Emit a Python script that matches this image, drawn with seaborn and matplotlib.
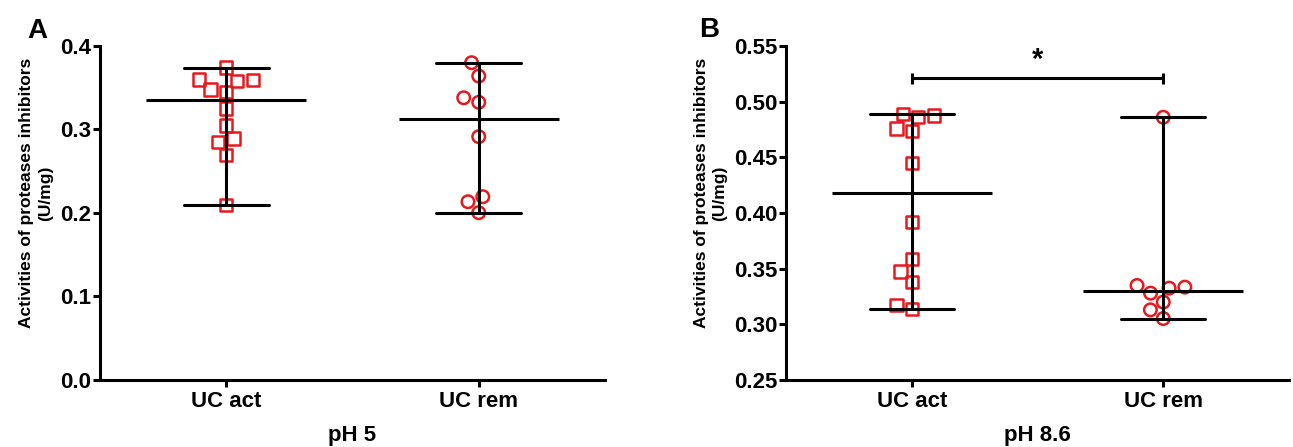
"""
Two-panel scatter dot plot: protease inhibitor activity at pH 5 and pH 8.6,
median with range, UC active vs UC remission.
"""

import numpy as np
import pandas as pd
import matplotlib
matplotlib.use("Agg")
import matplotlib.pyplot as plt
from matplotlib.ticker import FormatStrFormatter
import seaborn as sns

# Giá trị
GROUPS = ["UC act", "UC rem"]

ph5_act = [0.374, 0.359, 0.345, 0.348, 0.358, 0.360, 0.325, 0.305,
           0.285, 0.289, 0.2695, 0.2096]
ph5_rem = [0.380, 0.364, 0.3326, 0.338, 0.2914, 0.2195, 0.2135, 0.2004]

ph86_act = [0.4874, 0.4761, 0.4737, 0.486, 0.4887, 0.4447, 0.3917, 0.3585,
            0.3474, 0.3379, 0.3137, 0.3175]
ph86_rem = [0.486, 0.3349, 0.3325, 0.328, 0.3334, 0.320, 0.313, 0.3052]

PANEL_LETTERS = ["A", "B"]
PANEL_XLABELS = ["pH 5", "pH 8.6"]
YLABEL = "Activities of proteases inhibitors\n(U/mg)"
A_YTICKS = [0.0, 0.1, 0.2, 0.3, 0.4]
B_YTICKS = [0.25, 0.30, 0.35, 0.40, 0.45, 0.50, 0.55]
SIG_Y = 0.521
SIG_TEXT = "*"

RED = "#e8191e"
LW = 2.2


def make_frame(act, rem):
    return pd.DataFrame({
        "group": ["UC act"] * len(act) + ["UC rem"] * len(rem),
        "value": list(act) + list(rem),
    })


def draw_panel(ax, df):
    # điểm dữ liệu (rỗng, màu đỏ)
    for grp, mk in zip(GROUPS, ["s", "o"]):
        sub = df[df["group"] == grp]
        sns.swarmplot(data=sub, x="group", y="value", order=GROUPS,
                      marker=mk, size=9, color=RED, linewidth=1.8,
                      edgecolor=RED, ax=ax, zorder=3)
    for coll in ax.collections:
        coll.set_facecolor("none")
        coll.set_edgecolor(RED)
        coll.set_linewidth(1.8)

    # trung vị + khoảng (min, max)
    sns.pointplot(data=df, x="group", y="value", order=GROUPS,
                  estimator="median",
                  errorbar=lambda v: (np.min(v), np.max(v)),
                  capsize=0.335, color="black", marker="_",
                  markersize=115, markeredgewidth=LW, linestyle="none",
                  err_kws={"linewidth": LW, "zorder": 5}, zorder=5, ax=ax)

    ax.set_xlim(-0.5, 1.5)
    sns.despine(ax=ax)
    for side in ["left", "bottom"]:
        ax.spines[side].set_linewidth(LW)
        ax.spines[side].set_color("black")
    ax.tick_params(axis="y", length=5, width=LW, pad=1, labelsize=16,
                   color="black", labelcolor="black")
    ax.tick_params(axis="x", length=5, width=LW, pad=3, labelsize=16,
                   color="black", labelcolor="black")


sns.set_theme(style="ticks")
plt.rcParams["font.family"] = ["Liberation Sans", "DejaVu Sans"]
plt.rcParams["text.color"] = "black"
plt.rcParams["axes.labelcolor"] = "black"

fig = plt.figure(figsize=(12.93, 4.47), dpi=100)
ax_a = fig.add_axes([0.0773, 0.1499, 0.3906, 0.7472])
ax_b = fig.add_axes([0.6079, 0.1499, 0.3890, 0.7472])

# Panel A
draw_panel(ax_a, make_frame(ph5_act, ph5_rem))
ax_a.set_ylim(0, 0.4)
ax_a.set_yticks(A_YTICKS)
ax_a.yaxis.set_major_formatter(FormatStrFormatter("%.1f"))

# Panel B
draw_panel(ax_b, make_frame(ph86_act, ph86_rem))
ax_b.set_ylim(0.25, 0.55)
ax_b.set_yticks(B_YTICKS)
ax_b.yaxis.set_major_formatter(FormatStrFormatter("%.2f"))

# đường nối có ý nghĩa thống kê
ax_b.plot([0, 1], [SIG_Y, SIG_Y], color="black", lw=LW, solid_capstyle="butt")
ax_b.vlines([0, 1], SIG_Y - 0.005, SIG_Y + 0.005, color="black", lw=LW)
ax_b.text(0.5, SIG_Y + 0.004, SIG_TEXT, ha="center", va="bottom",
          fontsize=21, fontweight="bold", color="black")

for ax, xl, lx in zip([ax_a, ax_b], PANEL_XLABELS, [-0.093, -0.117]):
    for lab in ax.get_xticklabels() + ax.get_yticklabels():
        lab.set_fontweight("bold")
    ax.set_xlabel(xl, fontsize=16, fontweight="bold", labelpad=9)
    ax.set_ylabel(YLABEL, fontsize=12.5, fontweight="bold",
                  linespacing=1.3)
    ax.yaxis.set_label_coords(lx, 0.56)

fig.text(27 / 1293, 1 - 38 / 447, PANEL_LETTERS[0], fontsize=20,
         fontweight="bold", ha="left", va="baseline")
fig.text(699 / 1293, 1 - 37 / 447, PANEL_LETTERS[1], fontsize=20,
         fontweight="bold", ha="left", va="baseline")

fig.savefig("out.png", dpi=100)
plt.close(fig)
